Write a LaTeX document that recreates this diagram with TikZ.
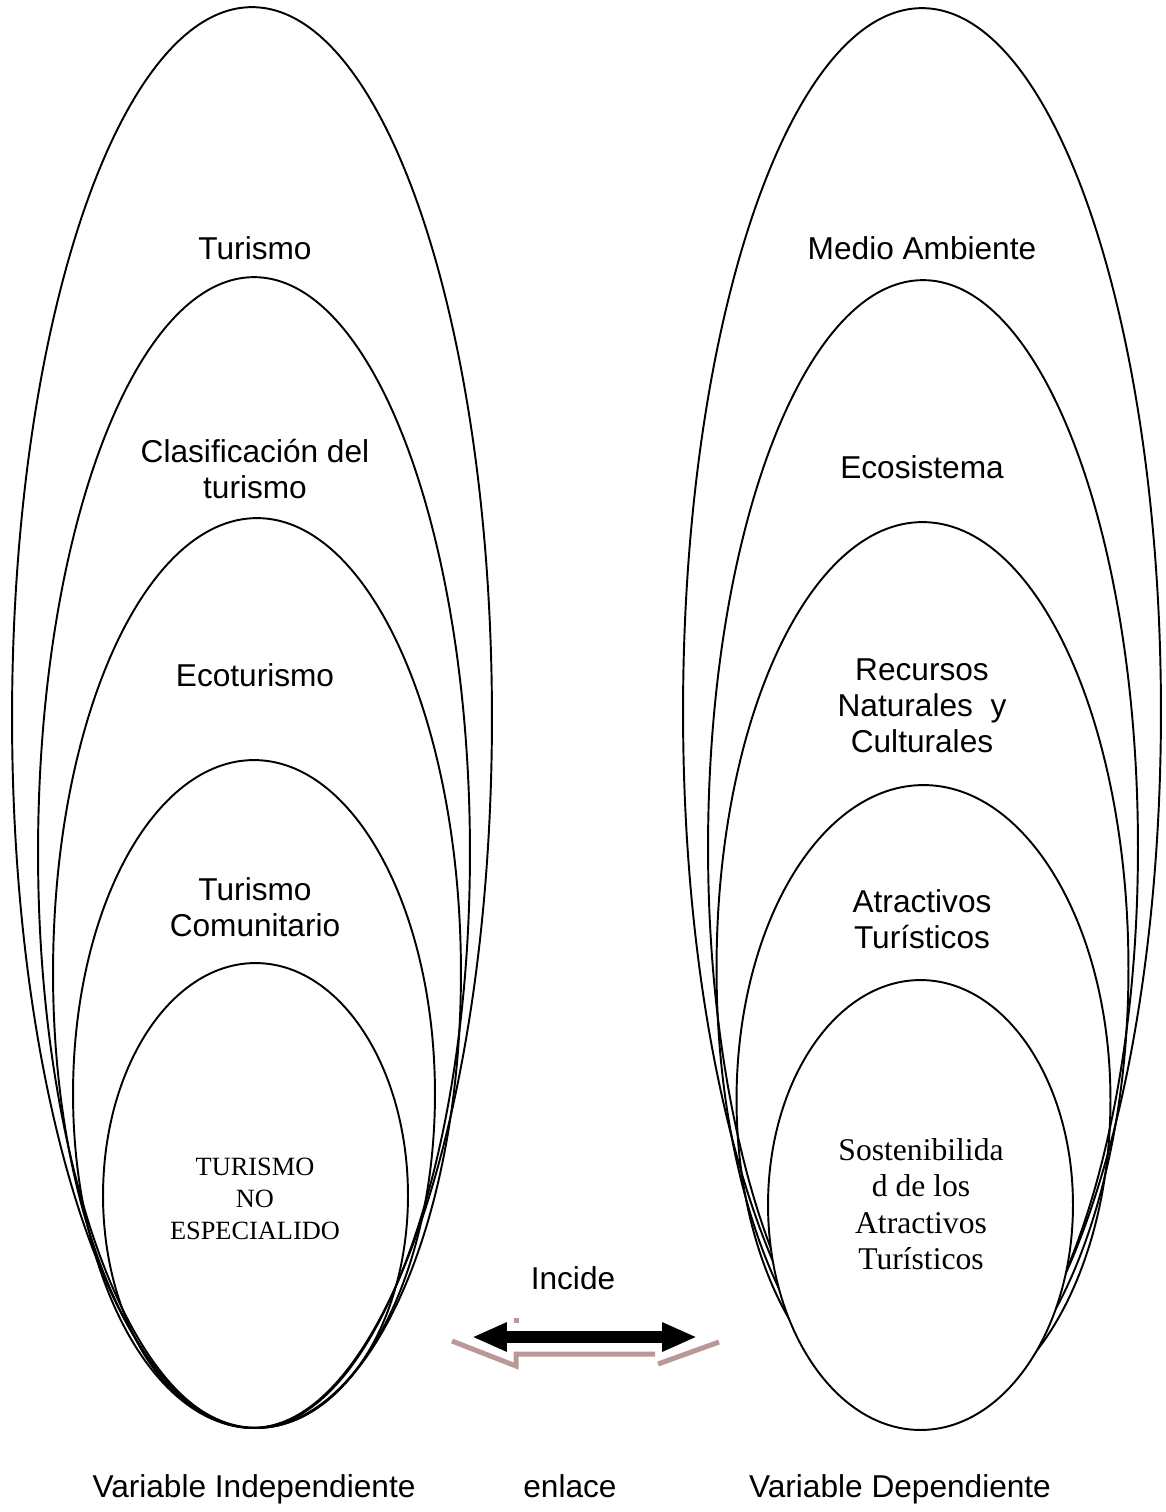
\documentclass[tikz,border=0pt]{standalone}
\usepackage{fontspec}
\setmainfont{Liberation Sans}
\newfontfamily\romana{Liberation Serif}
\usepackage{tikz}
\usetikzlibrary{shapes.geometric, arrows.meta}
\definecolor{rosado}{RGB}{186,152,150}
\tikzstyle{capa} = [ellipse, draw=black, line width=1.1pt, inner sep=0pt]
\tikzstyle{nucleo} = [capa, fill=white]
\tikzstyle{etiqueta} = [align=center, inner sep=0pt, font=\fontsize{18}{20.5}\selectfont]
\tikzstyle{pie} = [etiqueta, anchor=base]
\tikzstyle{romano} = [align=center, inner sep=0pt, font=\romana\fontsize{15}{18}\selectfont]
\tikzstyle{romanogr} = [align=center, inner sep=0pt, font=\romana\fontsize{18}{20.8}\selectfont]
\tikzstyle{flecha} = [line width=0.23cm, {Triangle[length=0.7cm, width=0.54cm]}-{Triangle[length=0.7cm, width=0.54cm]}]
\tikzstyle{relieve} = [draw=rosado, line width=0.1cm]

\begin{document}
\begin{tikzpicture}[x=0.02cm, y=-0.02cm]
    \useasboundingbox (0,0) rectangle (1166,1512);

    % variable independiente
    \node (turismo) [capa, minimum width=9.6cm, minimum height=28.42cm] at (252,717.5) {};
    \node (clasif) [capa, minimum width=8.64cm, minimum height=23.02cm] at (254,852.5) {};
    \node (ecotur) [capa, minimum width=8.16cm, minimum height=18.2cm] at (257,973) {};
    \node (comunit) [capa, minimum width=7.24cm, minimum height=13.36cm] at (254,1094) {};
    \node (noespec) [capa, minimum width=6.1cm, minimum height=9.3cm] at (255.5,1195.5) {};

    \node (lturismo) [etiqueta] at (255,248) {Turismo};
    \node (lclasif) [etiqueta] at (255,469) {Clasificación del\\turismo};
    \node (lecotur) [etiqueta] at (255,675) {Ecoturismo};
    \node (lcomunit) [etiqueta] at (255,907) {Turismo\\Comunitario};
    \node (lnoespec) [romano] at (255,1199) {TURISMO\\NO\\ESPECIALIDO};

    % variable dependiente
    \node (medio) [capa, minimum width=9.56cm, minimum height=28.14cm] at (922,711.5) {};
    \node (ecosis) [capa, minimum width=8.6cm, minimum height=22.7cm] at (923,847.5) {};
    \node (recursos) [capa, minimum width=8.24cm, minimum height=17.86cm] at (922.5,968.5) {};
    \node (atract) [capa, minimum width=7.48cm, minimum height=12.6cm] at (923.5,1100) {};
    \node (sosten) [nucleo, minimum width=6.1cm, minimum height=9cm] at (920.5,1205) {};

    \node (lmedio) [etiqueta] at (922,248) {Medio Ambiente};
    \node (lecosis) [etiqueta] at (922,467) {Ecosistema};
    \node (lrecursos) [etiqueta] at (922,706) {Recursos\\Naturales~ y\\Culturales};
    \node (latract) [etiqueta] at (922,919) {Atractivos\\Turísticos};
    \node (lsosten) [romanogr] at (921,1204) {Sostenibilida\\d de los\\Atractivos\\Turísticos};

    % enlace
    \node (incide) [etiqueta] at (573,1278) {Incide};
    \coordinate (izq) at (472,1337);
    \coordinate (der) at (697,1337);
    \draw [relieve] (452,1341) -- (516,1366) -- (516,1354) -- (655,1354);
    \draw [relieve] (658,1364) -- (719,1342);
    \draw [relieve] (516,1318) -- (516,1323);
    \draw [flecha] (izq) -- (der);

    \node (vindep) [pie] at (254,1497) {Variable Independiente};
    \node (enlace) [pie] at (570,1497) {enlace};
    \node (vdep) [pie] at (900,1497) {Variable Dependiente};
\end{tikzpicture}
\end{document}
